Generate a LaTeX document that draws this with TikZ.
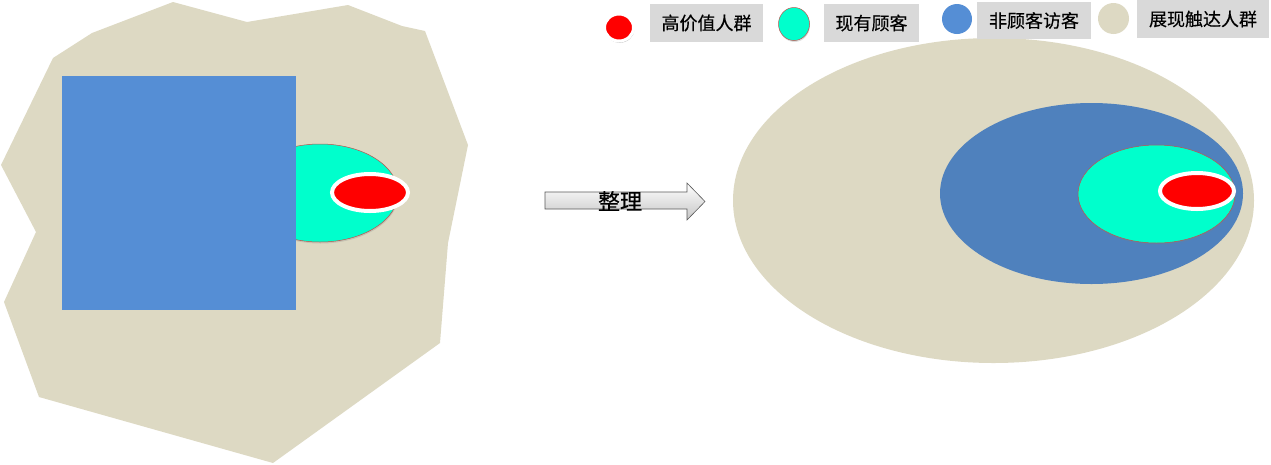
\documentclass[tikz,border=0pt]{standalone}
\usepackage{fontspec}
\newfontfamily\cjk{Noto Sans CJK SC}[FakeBold=0.4]
\usetikzlibrary{shapes.geometric,shadows}
\definecolor{tanfill}{HTML}{DDD9C3}
\definecolor{squareblue}{HTML}{558ED5}
\definecolor{ringblue}{HTML}{4F81BD}
\definecolor{custcyan}{HTML}{00FFCC}
\definecolor{custedge}{HTML}{C0504D}
\definecolor{keyred}{HTML}{FF0000}
\definecolor{keygray}{HTML}{D9D9D9}
\begin{document}
\begin{tikzpicture}[
			x=1pt, y=-1pt,
			every node/.style={inner sep=0pt},
			keybox/.style={fill=keygray, font=\cjk\fontsize{18}{18}\selectfont},
			valuering/.style={ellipse, fill=keyred, draw=white, line width=4pt,
				drop shadow={shadow xshift=0.5pt, shadow yshift=-1.5pt, opacity=0.4}},
			custring/.style={ellipse, fill=custcyan, draw=custedge, line width=0.5pt,
				drop shadow={shadow xshift=0.5pt, shadow yshift=-1.5pt, opacity=0.25}}
		]
		\useasboundingbox (0,0) rectangle (1271,464);
		% left: scattered crowd
		\fill[tanfill] (173,2) -- (247,22) -- (348,5) -- (402,26) -- (425,31) -- (468,145)
			-- (448,243) -- (440,343) -- (273,463) -- (39,397) -- (4,302) -- (36,232)
			-- (1,165) -- (53,58) -- (92,33) -- cycle;
		\node[custring, minimum width=156pt, minimum height=98pt] (custL) at (320,193) {};
		\node[valuering, minimum width=76pt, minimum height=37pt] (valueL) at (370,192.5) {};
		\node[fill=squareblue, minimum width=234pt, minimum height=234pt] (visitL) at (179,193) {};
		% arrow
		\shade[top color=white, bottom color=gray!45, draw=gray!70!black, line width=0.6pt]
			(545,192) -- (687,192) -- (687,183) -- (705,201.5) -- (687,220) -- (687,209)
			-- (545,209) -- cycle;
		\node[font=\cjk\fontsize{22}{22}\selectfont] (tidy) at (620,201) {整理};
		% right: nested crowds
		\node[ellipse, fill=tanfill, minimum width=521pt, minimum height=325pt] (reachR) at (993.5,200.5) {};
		\node[ellipse, fill=ringblue, minimum width=303pt, minimum height=181pt] (visitR) at (1091.5,193.5) {};
		\node[custring, minimum width=157pt, minimum height=98pt] (custR) at (1156.5,194) {};
		\node[valuering, minimum width=74pt, minimum height=36pt] (valueR) at (1197,191) {};
		% legend
		\node[ellipse, fill=keyred, draw=white, line width=3pt, minimum width=29pt, minimum height=27pt,
			drop shadow={shadow xshift=0.8pt, shadow yshift=-1.8pt, opacity=0.45}] (keyvalue) at (619,27.5) {};
		\node[keybox, minimum width=113pt, minimum height=38pt] (labvalue) at (706.5,23) {高价值人群};
		\node[custring, minimum width=31pt, minimum height=33pt] (keycust) at (794,24) {};
		\node[keybox, minimum width=95pt, minimum height=38pt] (labcust) at (871.5,23) {现有顾客};
		\node[ellipse, fill=squareblue, minimum width=30pt, minimum height=30pt] (keyvisit) at (957,19) {};
		\node[keybox, minimum width=114pt, minimum height=37pt] (labvisit) at (1034,20.5) {非顾客访客};
		\node[ellipse, fill=tanfill, minimum width=31pt, minimum height=31pt] (keyreach) at (1113.5,18.5) {};
		\node[keybox, minimum width=132pt, minimum height=38pt] (labreach) at (1203,19) {展现触达人群};
	\end{tikzpicture}
\end{document}
